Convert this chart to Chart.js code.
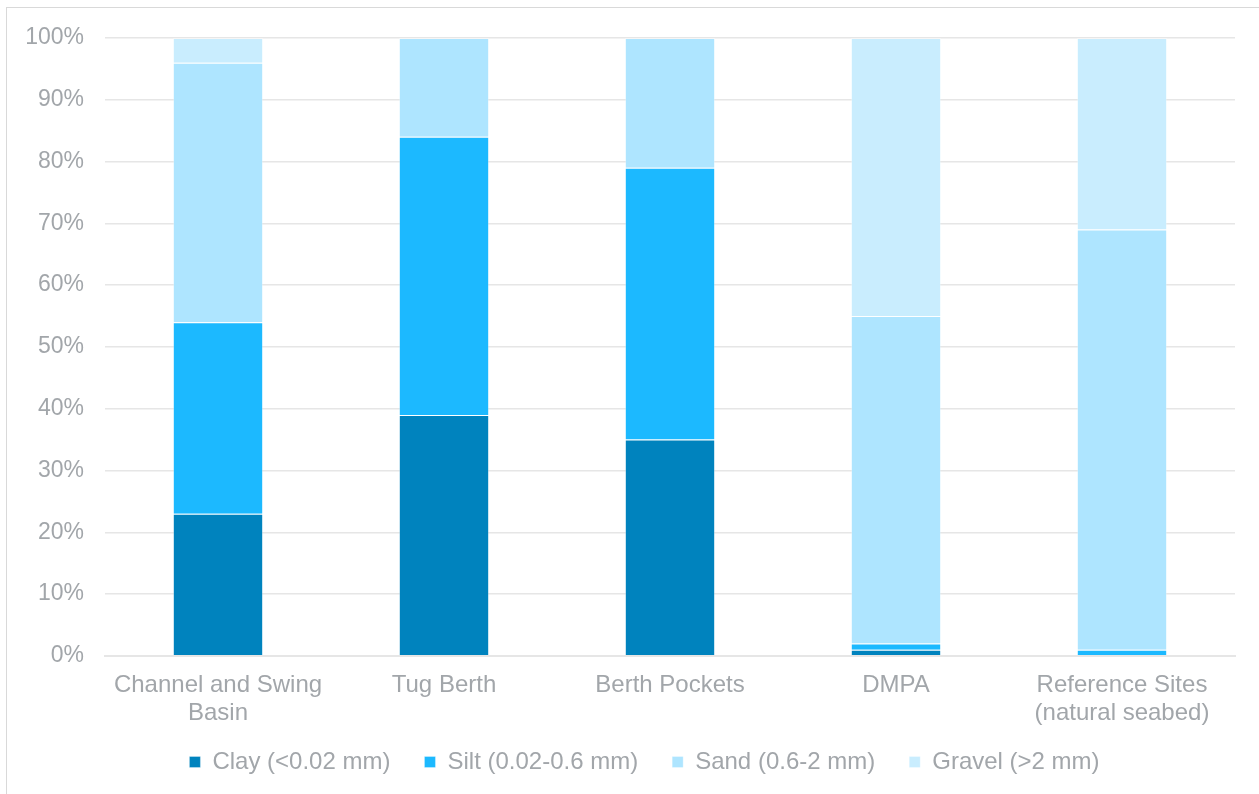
<!DOCTYPE html>
<html>
<head>
<meta charset="utf-8">
<script src="https://cdn.jsdelivr.net/npm/chart.js@4.4.1/dist/chart.umd.min.js"></script>
<style>
  html, body { margin: 0; padding: 0; background: #ffffff; }
  #wrap { position: relative; width: 1259px; height: 794px; overflow: hidden; }
  #frame { position: absolute; left: 6px; top: 7px; width: 1300px; height: 900px;
           border-top: 1px solid #d9d9d9; border-left: 1px solid #d9d9d9; box-sizing: border-box; }
  canvas { position: absolute; left: 0; top: 0; }
</style>
</head>
<body>
<div id="wrap">
  <div id="frame"></div>
  <canvas id="chart" width="1259" height="794"></canvas>
</div>
<script>
// Sediment grain-size composition by sampling area (% of sample)
const categories = [
  ["Channel and Swing", "Basin"],
  "Tug Berth",
  "Berth Pockets",
  "DMPA",
  ["Reference Sites", "(natural seabed)"]
];
const clay   = [23, 39, 35, 1, 0];
const silt   = [31, 45, 44, 1, 1];
const sand   = [42, 16, 21, 53, 68];
const gravel = [4, 0, 0, 45, 31];

const seriesNames = ["Clay (<0.02 mm)", "Silt (0.02-0.6 mm)", "Sand (0.6-2 mm)", "Gravel (>2 mm)"];
const seriesColors = ["#0083BE", "#1CB9FF", "#AEE5FF", "#C9EDFE"];
const yTicks = [0, 10, 20, 30, 40, 50, 60, 70, 80, 90, 100];

const textGrey = "#A2A6AA";
const fontFamily = "'Liberation Sans', Arial, sans-serif";

const datasets = [clay, silt, sand, gravel].map((vals, i) => ({
  label: seriesNames[i],
  data: vals,
  backgroundColor: seriesColors[i],
  borderColor: "rgba(255,255,255,0.3)",
  borderWidth: 1,
  barPercentage: 0.8,
  categoryPercentage: 0.5
}));

// Tighten the legend row: lift it closer to the axis labels and centre it
// under the plot rather than the whole canvas. The bottom edge stays put so
// the legend's clip box still covers the text.
const legendPlacement = {
  id: "legendPlacement",
  afterLayout(chart) {
    const lg = chart.legend;
    if (!lg) return;
    lg.top -= 26;
    lg.left += 54;
  }
};

new Chart(document.getElementById("chart"), {
  type: "bar",
  data: { labels: categories, datasets },
  plugins: [legendPlacement],
  options: {
    responsive: false,
    animation: false,
    layout: { padding: { top: 38, right: 24, bottom: 0, left: 0 } },
    plugins: {
      tooltip: { enabled: false },
      legend: {
        position: "bottom",
        maxHeight: 52,
        labels: {
          color: textGrey,
          font: { family: fontFamily, size: 24 },
          boxWidth: 11,
          boxHeight: 11,
          padding: 34
        }
      }
    },
    scales: {
      x: {
        stacked: true,
        grid: { display: false, drawTicks: false },
        border: { display: true, color: "#E6E6E6", width: 2 },
        ticks: {
          color: textGrey,
          font: { family: fontFamily, size: 24, lineHeight: 1.17 },
          padding: 15,
          maxRotation: 0,
          autoSkip: false
        }
      },
      y: {
        stacked: true,
        min: 0,
        max: 100,
        afterFit: (axis) => { axis.width = 105; },
        afterBuildTicks: (axis) => { axis.ticks = yTicks.map(v => ({ value: v })); },
        grid: { color: "#E6E6E6", lineWidth: 1.5, drawTicks: false },
        border: { display: false },
        ticks: {
          color: textGrey,
          font: { family: fontFamily, size: 23 },
          padding: 21,
          callback: (v) => v + "%"
        }
      }
    }
  }
});
</script>
</body>
</html>
